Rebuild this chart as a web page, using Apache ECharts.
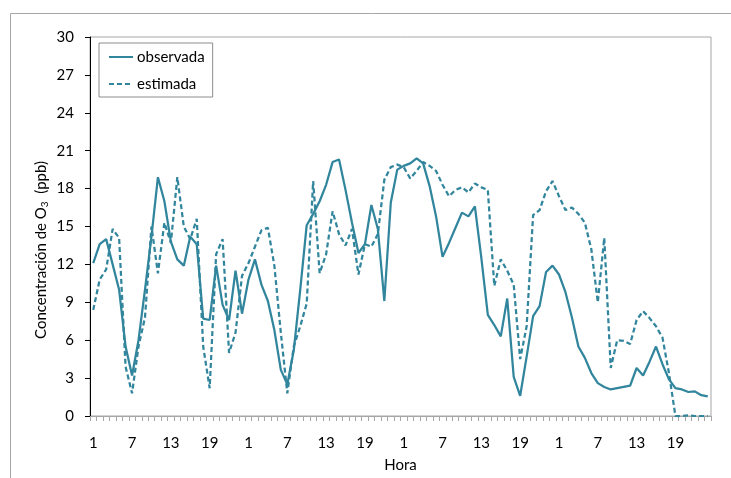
<!DOCTYPE html>
<html>
<head>
<meta charset="utf-8">
<script src="https://cdn.jsdelivr.net/npm/echarts@6/dist/echarts.min.js"></script>
<style>
  html, body { margin: 0; padding: 0; background: #ffffff; }
  #chart { width: 731px; height: 478px; }
</style>
</head>
<body>
<div id="chart"></div>
<script>
// Hourly O3 concentration (ppb) over four consecutive days
const hourLabels = [];
for (let d = 0; d < 4; d++) {
  for (let h = 1; h <= 24; h++) hourLabels.push(String(h));
}

const observada = [
  12.1, 13.6, 14.0, 12.0, 10.0, 5.5, 3.2, 6.0, 10.0, 14.2, 18.9, 17.0,
  13.8, 12.4, 11.9, 14.2, 13.6, 7.7, 7.6, 11.9, 8.8, 7.6, 11.5, 8.1,
  10.8, 12.4, 10.4, 9.1, 6.8, 3.65, 2.5, 5.2, 10.0, 15.1, 16.0, 17.0,
  18.3, 20.1, 20.3, 17.9, 15.3, 12.9, 13.6, 16.7, 14.8, 9.1, 16.9, 19.5,
  19.8, 20.0, 20.4, 20.0, 18.2, 15.8, 12.6, 13.7, 14.9, 16.1, 15.8, 16.6,
  12.5, 8.0, 7.2, 6.3, 9.3, 3.1, 1.6, 4.7, 7.9, 8.7, 11.4, 11.9,
  11.2, 9.8, 7.8, 5.5, 4.6, 3.4, 2.6, 2.3, 2.1, 2.2, 2.3, 2.4,
  3.8, 3.2, 4.3, 5.5, 4.1, 2.9, 2.2, 2.1, 1.9, 1.95, 1.65, 1.55
];

const estimada = [
  8.4, 10.8, 11.6, 14.8, 14.1, 3.9, 1.8, 5.5, 7.8, 15.0, 11.3, 15.3,
  13.7, 18.9, 15.0, 14.0, 15.6, 5.5, 2.2, 12.8, 14.0, 5.0, 6.6, 11.1,
  12.1, 13.4, 14.7, 14.9, 11.9, 6.6, 1.8, 5.5, 7.1, 8.9, 18.6, 11.3,
  12.8, 16.2, 14.4, 13.5, 14.8, 11.2, 13.6, 13.4, 14.4, 18.7, 19.7, 19.9,
  19.7, 18.8, 19.4, 20.1, 19.8, 19.4, 18.3, 17.4, 17.9, 18.1, 17.7, 18.4,
  18.1, 17.9, 10.3, 12.4, 11.5, 10.4, 4.5, 7.1, 15.9, 16.3, 17.8, 18.6,
  17.4, 16.3, 16.5, 16.0, 15.3, 13.2, 9.0, 14.1, 3.8, 6.0, 5.95, 5.7,
  7.6, 8.3, 7.75, 7.1, 6.2, 3.4, 0, 0, 0.05, 0, 0, 0
];

const yTicks = { min: 0, max: 30, step: 3 };

const FONT = 'Lato, "Open Sans", sans-serif';
const LINE_COLOR = '#31859C';

const chart = echarts.init(document.getElementById('chart'), null, { renderer: 'canvas' });

chart.setOption({
  animation: false,
  backgroundColor: '#ffffff',
  grid: {
    left: 90, right: 20, top: 37, bottom: 62,
    show: true, borderColor: '#a6a6a6', borderWidth: 1
  },
  legend: {
    orient: 'vertical',
    left: 99, top: 43,
    padding: [5, 8, 4, 9],
    itemGap: 9,
    itemWidth: 24,
    itemHeight: 2,
    itemStyle: { opacity: 0 },
    borderColor: '#8c8c8c',
    borderWidth: 1,
    textStyle: { fontFamily: FONT, fontSize: 15, color: '#000', lineHeight: 18, padding: [0, 0, 0, -1] },
    data: ['observada', 'estimada']
  },
  xAxis: {
    type: 'category',
    data: hourLabels,
    boundaryGap: true,
    name: 'Hora',
    nameLocation: 'middle',
    nameGap: 42,
    nameTextStyle: { fontFamily: FONT, fontSize: 15, color: '#000' },
    axisLine: { lineStyle: { color: '#a6a6a6', width: 1 } },
    axisTick: { show: true, interval: 0, length: 5, lineStyle: { color: '#a6a6a6' } },
    axisLabel: { interval: 5, margin: 20, fontFamily: FONT, fontSize: 15, color: '#000' },
    splitLine: { show: false }
  },
  yAxis: {
    type: 'value',
    min: yTicks.min, max: yTicks.max, interval: yTicks.step,
    axisLine: { show: true, lineStyle: { color: '#000', width: 1 } },
    axisTick: { show: true, length: 5, lineStyle: { color: '#000' } },
    axisLabel: { margin: 16, fontFamily: FONT, fontSize: 15, color: '#000' },
    splitLine: { show: false }
  },
  graphic: [
    {
      type: 'rect',
      silent: true,
      shape: { x: 10.5, y: 13.5, width: 900, height: 700 },
      style: { fill: null, stroke: '#a6a6a6', lineWidth: 1 }
    },
    {
      type: 'text',
      silent: true,
      x: 41, y: 250,
      rotation: Math.PI / 2,
      style: {
        text: 'Concentración de O{sub|3}  (ppb)',
        fontFamily: FONT, fontSize: 15, fill: '#000',
        align: 'center', verticalAlign: 'middle',
        rich: {
          sub: { fontFamily: FONT, fontSize: 10, fill: '#000', padding: [8, 0, 0, 0] }
        }
      }
    }
  ],
  series: [
    {
      name: 'observada',
      type: 'line',
      data: observada,
      showSymbol: false,
      symbol: 'none',
      color: LINE_COLOR,
      lineStyle: { color: LINE_COLOR, width: 2.25, type: 'solid' }
    },
    {
      name: 'estimada',
      type: 'line',
      data: estimada,
      showSymbol: false,
      symbol: 'none',
      color: LINE_COLOR,
      lineStyle: { color: LINE_COLOR, width: 2.25, type: [5, 3] }
    }
  ]
});
</script>
</body>
</html>
